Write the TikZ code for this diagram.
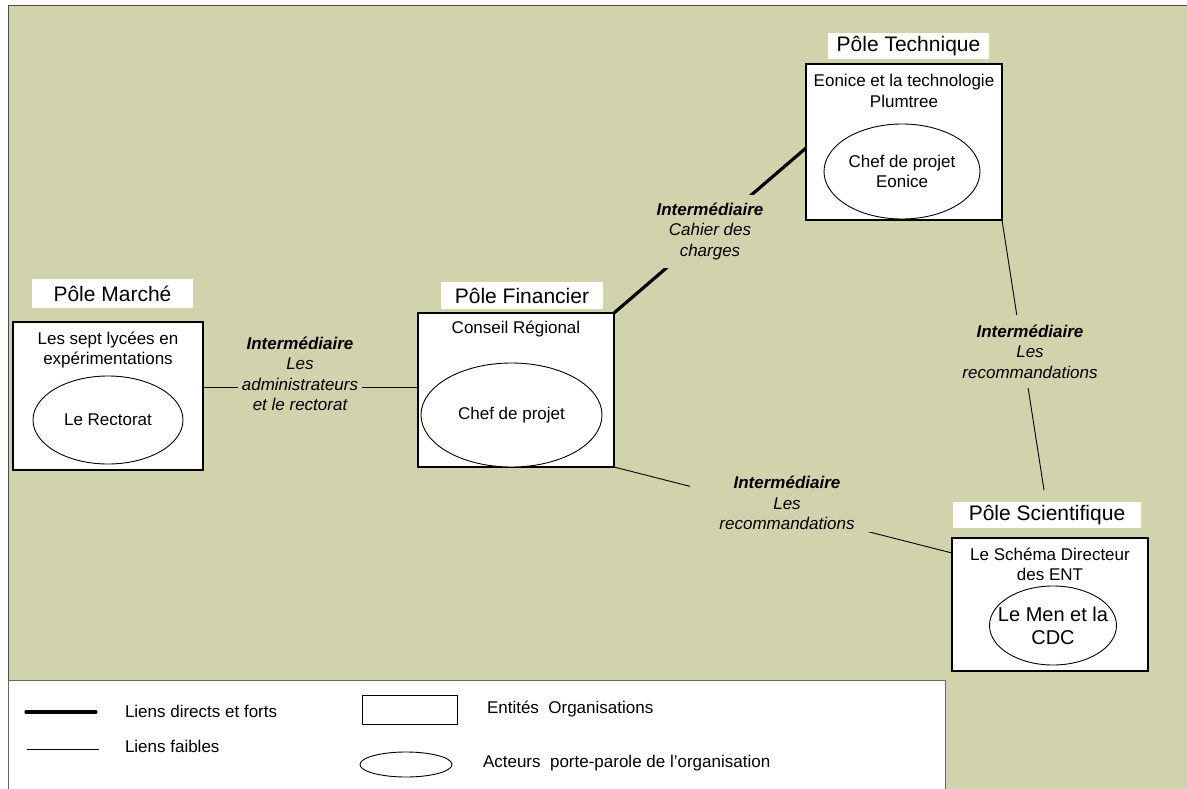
\documentclass[tikz,border=0pt]{standalone}
\usepackage{fontspec}
\setmainfont{Liberation Sans}
\usetikzlibrary{shapes.geometric}
\definecolor{bg}{RGB}{209,211,172}
\begin{document}
\begin{tikzpicture}[x=1pt,y=-1pt,
  every node/.style={inner sep=0pt, outer sep=0pt},
  txt/.style={font=\fontsize{17}{20.5}\selectfont, align=center},
  org/.style={draw=black, fill=white, rectangle, line width=1.3pt},
  orgthick/.style={org, line width=2.2pt},
  pole/.style={fill=white, font=\fontsize{21}{24}\selectfont},
  actor/.style={draw=black, fill=white, ellipse, line width=0.9pt},
  weak/.style={draw=black, line width=0.9pt},
  strong/.style={draw=black, line width=3.2pt},
  inter/.style={fill=bg, font=\fontsize{17}{20.5}\selectfont\itshape, align=center},
]
\useasboundingbox (0,0) rectangle (1187,789);
\fill[white] (0,0) rectangle (1187,789);
\fill[bg] (8,6) rectangle (1187,789);
\draw[black!70, line width=1pt] (8,789) -- (8,6) -- (1187,6);

% Pole Marche
\node[org, minimum width=190, minimum height=148] (marche) at (108,396) {};
\node[pole, minimum width=161, minimum height=29] (pmarche) at (112.5,293.5) {Pôle Marché};
\node[txt] (lycees) at (108,350) {Les sept lycées en\\expérimentations};
\node[actor, txt, minimum width=150, minimum height=88] (rectorat) at (108,420) {Le Rectorat};

% Pole Financier
\node[orgthick, minimum width=196, minimum height=154] (fin) at (516,390) {};
\node[pole, minimum width=162, minimum height=27] (pfin) at (522,295.5) {Pôle Financier};
\node[txt] (conseil) at (516,329) {Conseil Régional};
\node[actor, txt, minimum width=181, minimum height=104] (cpfin) at (511.5,415) {Chef de projet};

% Pole Technique
\node[orgthick, minimum width=196, minimum height=156] (tech) at (904,142) {};
\node[pole, minimum width=161, minimum height=26] (ptech) at (908.5,46) {Pôle Technique};
\node[txt] (eonice) at (904,91) {Eonice et la technologie\\Plumtree};
\node[actor, txt, minimum width=156, minimum height=95] (cptech) at (902,171.5) {Chef de projet\\Eonice};

% Pole Scientifique
\node[org, minimum width=196, minimum height=133] (sci) at (1050,604.5) {};
\node[pole, minimum width=188, minimum height=26] (psci) at (1047,515) {Pôle Scientifique};
\node[txt] (schema) at (1050,564.5) {Le Schéma Directeur\\des ENT};
\node[actor, minimum width=127, minimum height=79] (men) at (1053,625.5) {};
\node[font=\fontsize{20}{23}\selectfont, align=center] (mentxt) at (men.center) {Le Men et la\\CDC};

% Connectors
\coordinate (scitop) at (1044,490);
\draw[weak] ([yshift=9pt]marche.east) -- ([yshift=3pt]fin.west);
\draw[strong] (fin.north east) -- ([yshift=-6pt]tech.west);
\draw[weak] (tech.south east) -- (scitop);
\draw[weak] (fin.south east) -- ([yshift=-15pt]sci.north west);

% Labels
\node[inter, minimum width=124, minimum height=88] (labA) at (300,374) {\textbf{Intermédiaire}\\Les\\administrateurs\\et le rectorat};
\node[inter, minimum width=112, minimum height=73] (labB) at (710,231.5) {\textbf{Intermédiaire}\\Cahier des\\charges};
\node[inter, minimum width=140, minimum height=73] (labC) at (1030,351.5) {\textbf{Intermédiaire}\\Les\\recommandations};
\node[inter, minimum width=194, minimum height=58] (labD) at (787,503) {\textbf{Intermédiaire}\\Les\\recommandations};

% Legend
\node[draw=black!60, fill=white, line width=0.8pt, minimum width=937, minimum height=120, anchor=north west] (legend) at (8,680) {};
\coordinate (ls1) at (26,712);
\coordinate (le1) at (96,712);
\coordinate (ls2) at (27,749);
\coordinate (le2) at (99,749);
\draw[strong, line cap=round] (ls1) -- (le1);
\draw[weak] (ls2) -- (le2);
\node[txt, anchor=west] (lt1) at (125,711) {Liens directs et forts};
\node[txt, anchor=west] (lt2) at (125,746) {Liens faibles};
\node[draw=black, fill=white, line width=0.9pt, minimum width=95, minimum height=29] (lrect) at (409.5,709.5) {};
\node[txt, anchor=west] (lt3) at (487,709) {Entités\ \ Organisations};
\node[actor, minimum width=92, minimum height=25] (lell) at (406,764.5) {};
\node[txt, anchor=west] (lt4) at (483,763) {Acteurs\ \ porte-parole de l’organisation};
\end{tikzpicture}
\end{document}
